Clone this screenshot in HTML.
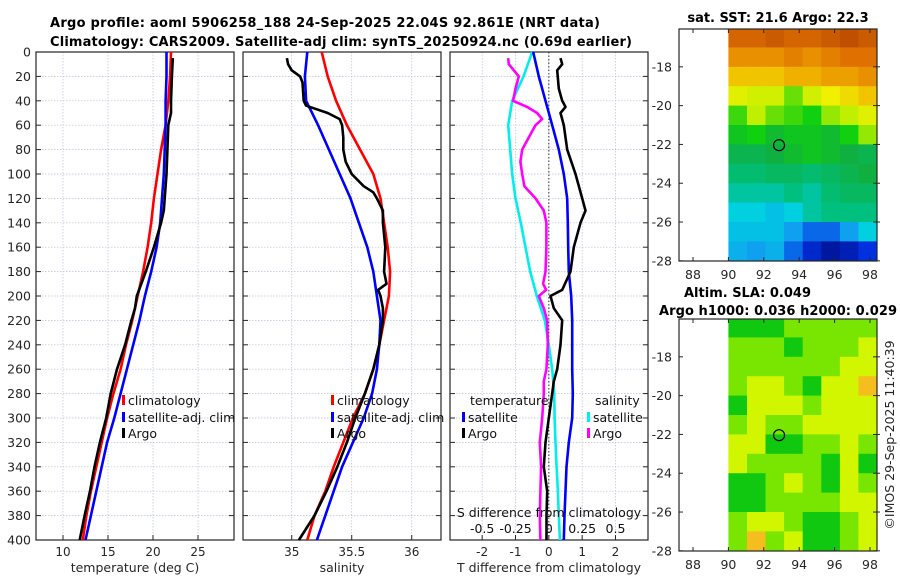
<!DOCTYPE html>
<html><head><meta charset="utf-8">
<style>
html,body{margin:0;padding:0;background:#fff;}
svg{display:block;font-family:"DejaVu Sans","Liberation Sans",sans-serif;}
</style></head>
<body>
<svg id="fig" width="900" height="580" viewBox="0 0 900 580" xmlns="http://www.w3.org/2000/svg"></svg>
<script>
// ---------- data ----------
const climDepths = [0,20,40,60,80,100,120,140,160,180,200,220,240,260,280,300,320,340,360,380,400];
const tempClim = [22.0,21.9,21.7,21.4,20.9,20.5,20.1,19.8,19.4,18.9,18.3,17.7,17.0,16.4,15.6,14.9,14.3,13.7,13.1,12.6,12.2];
const tempSat  = [21.5,21.5,21.4,21.4,21.3,21.2,21.0,20.8,20.4,19.8,19.1,18.5,17.8,17.1,16.4,15.7,14.9,14.3,13.7,13.1,12.5];
const argoTDepths = [5,20,40,50,60,80,100,120,130,140,160,180,200,210,220,240,260,280,300,320,340,360,380,400];
const tempArgo = [22.2,22.1,22.0,22.0,21.7,21.6,21.5,21.3,21.2,20.9,20.1,19.2,18.2,18.0,17.6,16.9,16.0,15.3,14.8,14.1,13.5,13.0,12.4,11.85];

const salClim = [35.25,35.30,35.37,35.46,35.57,35.68,35.74,35.77,35.80,35.82,35.81,35.77,35.73,35.68,35.61,35.51,35.43,35.35,35.28,35.19,35.13];
const salSat  = [35.13,35.11,35.12,35.22,35.31,35.40,35.49,35.56,35.63,35.68,35.71,35.74,35.73,35.71,35.67,35.60,35.51,35.42,35.35,35.28,35.21];
const argoSDepths = [5,10,15,20,25,40,44,50,55,60,70,80,90,100,110,115,120,130,140,160,180,190,195,200,210,220,240,260,280,300,320,340,360,380,400];
const salArgo = [34.96,34.97,35.00,35.07,35.09,35.10,35.12,35.30,35.40,35.42,35.43,35.43,35.45,35.50,35.60,35.68,35.71,35.76,35.76,35.78,35.77,35.79,35.72,35.74,35.76,35.76,35.73,35.68,35.61,35.53,35.46,35.38,35.29,35.19,35.06];

const tDiffSat = [-0.47,-0.3,-0.1,0.1,0.3,0.45,0.55,0.57,0.58,0.6,0.67,0.7,0.7,0.7,0.72,0.7,0.6,0.53,0.5,0.47,0.45];
const sDiffSat = [-0.125,-0.19,-0.275,-0.305,-0.29,-0.275,-0.25,-0.21,-0.175,-0.14,-0.09,-0.03,0,0.025,0.04,0.043,0.05,0.058,0.068,0.075,0.083];
const tDiffArgoDepths = [5,10,15,30,40,45,50,60,80,100,120,130,140,160,180,195,200,210,220,240,260,270,280,290,300,320,340,360,380,400];
const tDiffArgo = [0.35,0.4,0.25,0.3,0.4,0.5,0.35,0.45,0.55,0.8,1.0,1.1,0.95,0.75,0.65,0.4,0.05,0.15,0.4,0.35,0.25,0.15,0.1,0.05,0,-0.1,-0.15,-0.05,-0.07,-0.07];
const sDiffArgoDepths = [5,10,20,30,40,45,50,55,60,70,80,90,100,110,120,130,140,160,180,190,195,200,210,220,240,260,270,280,300,320,340,360,380,400];
const sDiffArgo = [-0.305,-0.3,-0.225,-0.25,-0.268,-0.163,-0.088,-0.05,-0.1,-0.15,-0.2,-0.213,-0.2,-0.183,-0.1,-0.038,-0.018,-0.018,-0.025,-0.043,-0.02,-0.075,-0.038,-0.013,-0.008,-0.018,-0.038,-0.038,-0.05,-0.068,-0.058,-0.063,-0.068,-0.063];

const depthTicks = [0,20,40,60,80,100,120,140,160,180,200,220,240,260,280,300,320,340,360,380,400];
const tempTicks = [10,15,20,25];
const salTicks = [35,35.5,36];
const salTickLabels = ["35","35.5","36"];
const diffTicks = [-2,-1,0,1,2];
const sDiffTicks = [-0.5,-0.25,0,0.25,0.5];
const sDiffTickLabels = ["-0.5","-0.25","0","0.25","0.5"];

// Maps: rows lat -16..-28 (1 deg), cols lon 90..98
const latTicks = [-18,-20,-22,-24,-26,-28];
const lonTicks = [88,90,92,94,96,98];
const sstGrid = [
 [23.6,23.6,23.7,23.6,23.6,23.7,23.8,23.7],
 [23.3,23.3,23.3,23.4,23.3,23.4,23.5,23.5],
 [23.0,23.0,23.0,23.1,23.1,23.2,23.2,23.3],
 [22.7,22.6,22.6,22.3,22.6,22.8,22.9,23.0],
 [22.2,22.5,22.3,22.2,22.1,22.4,22.5,22.7],
 [22.0,22.1,21.9,22.0,22.0,21.9,22.1,22.4],
 [21.7,21.7,21.8,21.9,22.0,21.9,21.8,21.7],
 [21.5,21.5,21.6,21.6,21.5,21.6,21.7,21.8],
 [21.3,21.3,21.3,21.4,21.3,21.5,21.6,21.6],
 [21.1,21.1,21.0,21.1,21.3,21.4,21.4,21.4],
 [21.0,21.0,21.0,20.8,20.6,20.6,20.8,21.1],
 [20.9,20.8,20.9,20.6,20.3,20.1,20.2,20.4]];
const slaGrid = [
 [1,1,1,2,2,2,2,2],
 [2,2,2,1,2,2,2,3],
 [2,2,2,2,2,2,3,3],
 [2,3,3,2,1,3,3,4],
 [1,3,3,3,2,3,3,3],
 [2,3,2,2,3,3,3,3],
 [3,3,1,1,2,2,3,2],
 [3,2,2,2,2,1,3,1],
 [1,1,2,3,2,1,3,2],
 [1,1,2,2,2,2,3,3],
 [2,3,3,2,1,1,2,3],
 [2,4,2,3,1,1,2,3]];
const floatLon = 92.861, floatLat = -22.04;

// ---------- helpers ----------
const NS="http://www.w3.org/2000/svg";
const svg=document.getElementById('fig');
function mk(tag,attrs,parent){const e=document.createElementNS(NS,tag);for(const k in attrs)e.setAttribute(k,attrs[k]);(parent||svg).appendChild(e);return e;}
function txt(s,x,y,opts,parent){const e=mk('text',Object.assign({x:x,y:y,'font-size':12,fill:'#262626'},opts||{}),parent);e.textContent=s;return e;}

const Y0=52,Y1=540;
const yD=d=>Y0+(d/400)*(Y1-Y0);
const panels=[
 {name:'temperature',x0:36,x1:234,dmin:7,dmax:29},
 {name:'salinity',x0:243,x1:441,dmin:34.594,dmax:36.244},
 {name:'difference',x0:450,x1:648,dmin:-2.965,dmax:2.975}];
function sx(p,v){return p.x0+(v-p.dmin)/(p.dmax-p.dmin)*(p.x1-p.x0);}

function drawPanel(p,ticks,labels){
  const g=mk('g',{});
  
  
  // gridlines
  depthTicks.forEach(d=>{mk('line',{x1:p.x0,x2:p.x1,y1:yD(d),y2:yD(d),stroke:'#b8bfd8','stroke-width':0.7,'stroke-dasharray':'1.5,1.5'},g);});
  ticks.forEach(v=>{mk('line',{x1:sx(p,v),x2:sx(p,v),y1:Y0,y2:Y1,stroke:'#b8bfd8','stroke-width':0.7,'stroke-dasharray':'1.5,1.5'},g);});
  // ticks
  depthTicks.forEach(d=>{mk('line',{x1:p.x0,x2:p.x0+5,y1:yD(d),y2:yD(d),stroke:'#262626'},g);mk('line',{x1:p.x1-5,x2:p.x1,y1:yD(d),y2:yD(d),stroke:'#262626'},g);});
  ticks.forEach((v,i)=>{mk('line',{x1:sx(p,v),x2:sx(p,v),y1:Y1,y2:Y1-5,stroke:'#262626'},g);
    const t=txt(labels[i],sx(p,v),Y1+16,{'text-anchor':'middle'},g);
    });
  mk('rect',{x:p.x0,y:Y0,width:p.x1-p.x0,height:Y1-Y0,fill:'none',stroke:'#262626','stroke-width':1.2},g);
  return g;
}
function line(p,xs,ds,color,name,scale){
  const sc=scale||1;
  const pts=xs.map((v,i)=>sx(p,v*sc).toFixed(1)+','+yD(ds[i]).toFixed(1)).join(' ');
  const e=mk('polyline',{points:pts,fill:'none',stroke:color,'stroke-width':2.6,'stroke-linejoin':'round'});
  
  
  return e;
}
function legendEntry(x,y,color,label,name){
  const g=mk('g',{});
  
  
  mk('rect',{x:x,y:y-10,width:3,height:10,fill:color},g);
  txt(label,x+6,y,{'font-size':12.5,fill:'#111'},g);
}

// ---------- titles ----------
let t=txt('Argo profile: aoml 5906258_188 24-Sep-2025 22.04S 92.861E (NRT data)',50,27,{'font-weight':'bold','font-size':13,fill:'#000',textLength:550});

t=txt('Climatology: CARS2009. Satellite-adj clim: synTS_20250924.nc (0.69d earlier)',50,46,{'font-weight':'bold','font-size':13,fill:'#000',textLength:582});


// ---------- panel 1 ----------
const p1=panels[0];
drawPanel(p1,tempTicks,tempTicks.map(String));
depthTicks.forEach(d=>{const e=txt(String(d),31,yD(d)+4.5,{'text-anchor':'end','font-size':12.5});
  });
line(p1,tempClim,climDepths,'#ff0000','temp-climatology-line');
line(p1,tempSat,climDepths,'#0000ff','temp-satellite-line');
line(p1,tempArgo,argoTDepths,'#000000','temp-argo-line');
t=txt('temperature (deg C)',135,572,{'text-anchor':'middle','font-size':12.5});

legendEntry(122,405,'#ff0000','climatology','legend-climatology');
legendEntry(122,422,'#0000ff','satellite-adj. clim','legend-satellite-adj');
legendEntry(122,438,'#000000','Argo','legend-argo');

// ---------- panel 2 ----------
const p2=panels[1];
drawPanel(p2,salTicks,salTickLabels);
line(p2,salClim,climDepths,'#ff0000','sal-climatology-line');
line(p2,salSat,climDepths,'#0000ff','sal-satellite-line');
line(p2,salArgo,argoSDepths,'#000000','sal-argo-line');
t=txt('salinity',342,572,{'text-anchor':'middle','font-size':12.5});

legendEntry(331,405,'#ff0000','climatology','legend-climatology-2');
legendEntry(331,422,'#0000ff','satellite-adj. clim','legend-satellite-adj-2');
legendEntry(331,438,'#000000','Argo','legend-argo-2');

// ---------- panel 3 ----------
const p3=panels[2];
drawPanel(p3,diffTicks,diffTicks.map(String));
mk('line',{x1:sx(p3,0),x2:sx(p3,0),y1:Y0,y2:Y1,stroke:'#333','stroke-width':1,'stroke-dasharray':'1.5,2'});
line(p3,sDiffSat,climDepths,'#00eeee','sdiff-satellite-line',4);
line(p3,sDiffArgo,sDiffArgoDepths,'#ff00ff','sdiff-argo-line',4);
line(p3,tDiffSat,climDepths,'#0000ff','tdiff-satellite-line');
line(p3,tDiffArgo,tDiffArgoDepths,'#000000','tdiff-argo-line');
t=txt('T difference from climatology',549,572,{'text-anchor':'middle','font-size':12.5});

t=txt('S difference from climatology',549,517,{'text-anchor':'middle','font-size':12.5,fill:'#111'});

sDiffTicks.forEach((v,i)=>{const e=txt(sDiffTickLabels[i],sx(p3,v*4),533,{'text-anchor':'middle','font-size':12.5,fill:'#111'});
  });
t=txt('temperature',470,405,{'font-size':12.5,fill:'#111'});

legendEntry(462,422,'#0000ff','satellite','legend-t-satellite');
legendEntry(462,438,'#000000','Argo','legend-t-argo');
t=txt('salinity',595,405,{'font-size':12.5,fill:'#111'});

legendEntry(587,422,'#00eeee','satellite','legend-s-satellite');
legendEntry(587,438,'#ff00ff','Argo','legend-s-argo');

// ---------- maps ----------
const MX0=679,MX1=877;
const lonX=lon=>693+(lon-88)*17.7;
function lerpColor(stops,v){
  if(v<=stops[0][0])return stops[0][1];
  for(let i=1;i<stops.length;i++){if(v<=stops[i][0]){const a=stops[i-1],b=stops[i];const f=(v-a[0])/(b[0]-a[0]);
    const c=[0,1,2].map(k=>Math.round(a[1][k]+(b[1][k]-a[1][k])*f));return 'rgb('+c.join(',')+')';}}
  return stops[stops.length-1][1];
}
function toRGB(s){if(typeof s==='string')return s;return 'rgb('+s.join(',')+')';}
const sstStops=[[20.0,[0,16,138]],[20.4,[0,48,224]],[20.8,[16,160,240]],[21.1,[0,208,224]],[21.4,[0,192,128]],[21.8,[16,176,64]],[22.1,[16,208,16]],[22.5,[192,240,0]],[22.8,[240,240,0]],[23.1,[240,176,0]],[23.5,[224,112,0]],[23.8,[192,80,0]]];
const slaStops=[[0,[0,176,48]],[1,[16,200,16]],[2,[120,230,0]],[3,[210,245,0]],[4,[245,190,30]]];
function drawMap(name,top,grid,stops,title1,title2){
  const bottom=top+232;
  const latY=lat=>top+(-16.05-lat)*19.4;
  const g=mk('g',{});
  
  
  const cw=(MX1-lonX(90))/8;
  grid.forEach((row,r)=>{row.forEach((v,c)=>{
    const col=lerpColor(stops,v);const cs=typeof col==='string'?col:toRGB(col);
    const y0=latY(-16-r), y1=latY(-17-r);
    const cell=mk('rect',{x:(lonX(90)+c*cw).toFixed(1),y:Math.max(top,y0).toFixed(1),width:(cw+0.5).toFixed(1),height:(Math.min(bottom,y1)-Math.max(top,y0)+0.5).toFixed(1),fill:cs},g);
    
    
  });});
  latTicks.forEach(l=>{const y=latY(l);
    mk('line',{x1:MX0,x2:MX0+4,y1:y,y2:y,stroke:'#262626'},g);mk('line',{x1:MX1-4,x2:MX1+3,y1:y,y2:y,stroke:'#262626'},g);
    const e=txt(String(l),672,y+4.5,{'text-anchor':'end','font-size':12.5},g);
    });
  lonTicks.forEach(l=>{const x=lonX(l);
    mk('line',{x1:x,x2:x,y1:bottom,y2:bottom-4,stroke:'#262626'},g);mk('line',{x1:x,x2:x,y1:top,y2:top+4,stroke:'#262626'},g);
    const e=txt(String(l),x,bottom+18,{'text-anchor':'middle','font-size':12.5},g);
    });
  mk('rect',{x:MX0,y:top,width:MX1-MX0,height:bottom-top,fill:'none',stroke:'#262626','stroke-width':1.2},g);
  const c=mk('circle',{cx:lonX(floatLon),cy:latY(floatLat),r:5.5,fill:'none',stroke:'#000','stroke-width':1.2},g);
  
  
}
drawMap('sst-map',29,sstGrid,sstStops);
drawMap('sla-map',319,slaGrid,slaStops);
t=txt('sat. SST: 21.6 Argo: 22.3',778,22,{'text-anchor':'middle','font-weight':'bold','font-size':13,fill:'#000'});

t=txt('Altim. SLA: 0.049',684,297,{'font-weight':'bold','font-size':13,fill:'#000'});

t=txt('Argo h1000: 0.036 h2000: 0.029',659,315,{'font-weight':'bold','font-size':13,fill:'#000',textLength:238});

t=txt('©IMOS 29-Sep-2025 11:40:39',0,0,{'text-anchor':'middle','font-size':12.5,transform:'translate(894,435) rotate(-90)'});

</script>
</body></html>
